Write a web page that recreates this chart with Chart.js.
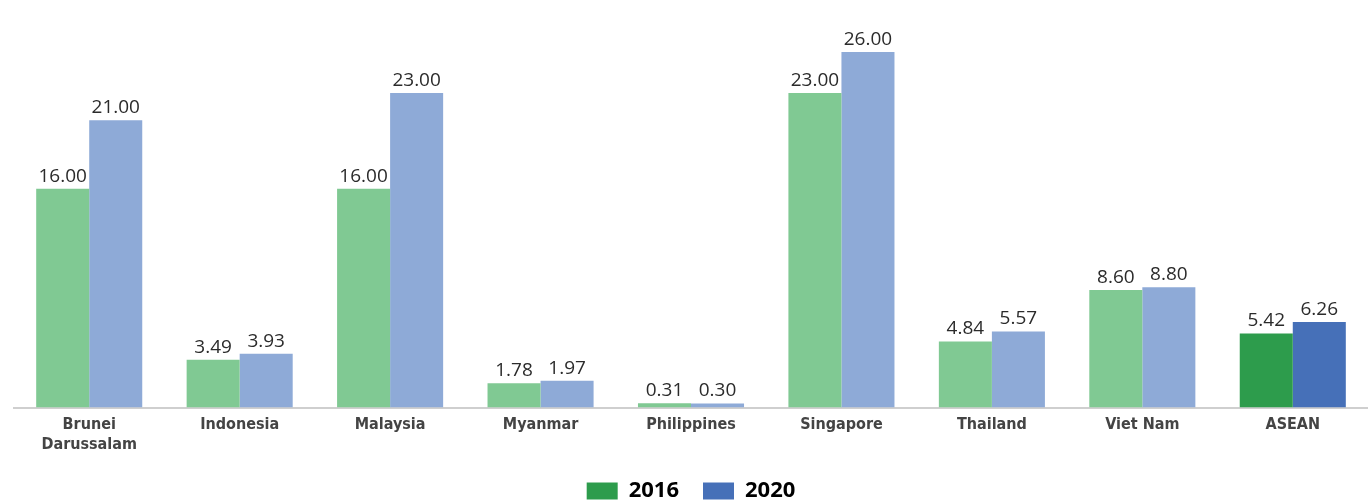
<!DOCTYPE html>
<html>
<head>
<meta charset="utf-8">
<script src="https://cdn.jsdelivr.net/npm/chart.js@4/dist/chart.umd.min.js"></script>
<style>
  html, body { margin: 0; padding: 0; background: #fff; }
  #wrap { width: 1368px; height: 502px; position: relative; }
</style>
</head>
<body>
<div id="wrap"><canvas id="chart"></canvas></div>
<script>
// chart data
const categories = [['Brunei', 'Darussalam'], 'Indonesia', 'Malaysia', 'Myanmar', 'Philippines', 'Singapore', 'Thailand', 'Viet Nam', 'ASEAN'];
const values2016 = [16.00, 3.49, 16.00, 1.78, 0.31, 23.00, 4.84, 8.60, 5.42];
const values2020 = [21.00, 3.93, 23.00, 1.97, 0.30, 26.00, 5.57, 8.80, 6.26];
const seriesNames = ['2016', '2020'];

// light tones for countries, strong tones for the ASEAN total
const green = '#80c993', greenDark = '#2d9c4c';
const blue = '#8eaad7', blueDark = '#4670b8';
const colorsFor = (light, dark) => categories.map((_, i) => i === categories.length - 1 ? dark : light);

// draws the value above each bar
const valueLabels = {
    id: 'valueLabels',
    afterDatasetsDraw(chart) {
        const ctx = chart.ctx;
        ctx.save();
        ctx.font = '19px "Open Sans", "DejaVu Sans", sans-serif';
        ctx.fillStyle = '#2b2b2b';
        ctx.textAlign = 'center';
        ctx.textBaseline = 'bottom';
        chart.data.datasets.forEach((ds, di) => {
            chart.getDatasetMeta(di).data.forEach((bar, i) => {
                ctx.fillText(ds.data[i].toFixed(2), bar.x, bar.y - 3);
            });
        });
        ctx.restore();
    }
};

// keep the wide gap between legend items but pull the legend box tighter
const legendSqueeze = {
    id: 'legendSqueeze',
    beforeInit(chart) {
        const fit = chart.legend.fit;
        chart.legend.fit = function () {
            fit.call(this);
            this.height -= 10;
        };
    }
};

new Chart(document.getElementById('chart'), {
    type: 'bar',
    data: {
        labels: categories,
        datasets: [
            { label: seriesNames[0], data: values2016, backgroundColor: colorsFor(green, greenDark) },
            { label: seriesNames[1], data: values2020, backgroundColor: colorsFor(blue, blueDark) }
        ]
    },
    options: {
        responsive: true,
        maintainAspectRatio: false,
        animation: false,
        categoryPercentage: 0.705,
        barPercentage: 1,
        layout: { padding: { left: 14, right: 0, top: 0, bottom: 0 } },
        plugins: {
            tooltip: { enabled: false },
            legend: {
                position: 'bottom',
                labels: {
                    boxWidth: 31,
                    boxHeight: 17,
                    padding: 24,
                    color: '#555555',
                    font: { size: 22, weight: 'bold', family: '"Open Sans", "DejaVu Sans", sans-serif' },
                    generateLabels: () => [
                        { text: seriesNames[0], fillStyle: greenDark, strokeStyle: greenDark, lineWidth: 0, datasetIndex: 0 },
                        { text: seriesNames[1], fillStyle: blueDark, strokeStyle: blueDark, lineWidth: 0, datasetIndex: 1 }
                    ]
                }
            }
        },
        scales: {
            x: {
                grid: { display: false },
                border: { display: true, color: '#cfcfcf', width: 2 },
                afterFit: (scale) => { scale.height += 2; },
                ticks: {
                    color: '#444444',
                    padding: 0,
                    font: { size: 16, weight: 'bold', family: '"Liberation Sans Narrow", "DejaVu Sans Condensed", sans-serif' }
                }
            },
            y: {
                display: false,
                min: 0,
                max: 29.8
            }
        }
    },
    plugins: [valueLabels, legendSqueeze]
});
</script>
</body>
</html>
